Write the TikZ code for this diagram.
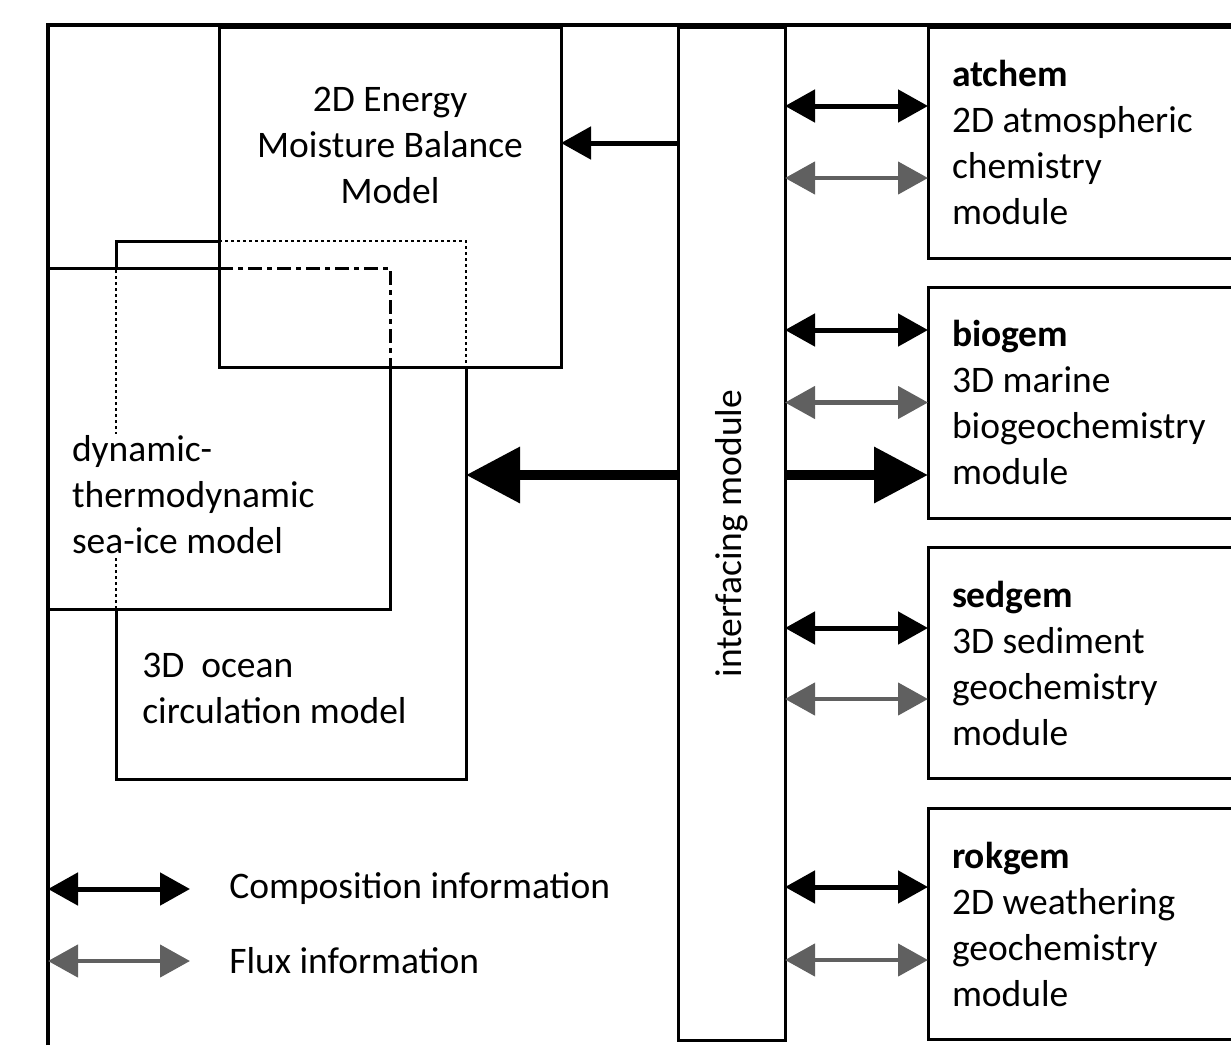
\documentclass[tikz,border=0pt]{standalone}
\usepackage{fontspec}
\setmainfont{Carlito}
\usepackage{graphicx}
\usepackage{tikz}
\usetikzlibrary{arrows.meta, positioning, calc}
\definecolor{fluxgray}{RGB}{96,96,96}

\begin{document}
\begin{tikzpicture}[x=1pt, y=-1pt,
        every node/.style={font=\fontsize{37.5}{46}\selectfont, outer sep=0pt},
        box/.style={draw, line width=3pt, rectangle, inner sep=0pt},
        module/.style={box, anchor=west, minimum height=231pt, text width=292pt, inner xsep=24pt, align=flush left},
        region/.style={rectangle, inner sep=0pt},
        frame/.style={line width=3.5pt},
        solidline/.style={line width=3pt},
        dottedline/.style={line width=2.8pt, dash pattern=on 2.8pt off 3.2pt},
        dashdotline/.style={line width=3pt, dash pattern=on 14pt off 5pt on 5pt off 5pt},
        comp/.style={{Triangle[length=30pt,width=32pt]}-{Triangle[length=30pt,width=32pt]}, line width=5pt},
        flux/.style={comp, draw=fluxgray, fill=fluxgray, line width=4.5pt},
        oneway/.style={-{Triangle[length=30pt,width=32pt]}, line width=5pt},
        bigarrow/.style={-{Triangle[length=54pt,width=54pt]}, line width=10pt}]
        \useasboundingbox (0,0) rectangle (1231,1045);
        \clip (0,0) rectangle (1231,1045);

        % outer frame
        \draw[frame] (48,1045) -- (48,25) -- (1231,25);

        % model components
        \node[box, minimum width=342pt, minimum height=340pt] (embm) at (390,197) {};
        \node[align=center] (embmtext) at (390,145) {2D Energy\\Moisture Balance\\Model};
        \node[region, minimum width=342pt, minimum height=341pt] (seaice) at (219,438.5) {};
        \node[region, minimum width=350pt, minimum height=538pt] (ocean) at (291,510) {};

        % ocean outline
        \draw[solidline] (ocean.west |- seaice.north) -- (ocean.north west) -- (embm.west |- ocean.north);
        \draw[dottedline] (embm.west |- ocean.north) -- (ocean.north east) -- (ocean.east |- embm.south);
        \draw[solidline] (ocean.east |- embm.south) -- (ocean.south east) -- (ocean.south west) -- (ocean.west |- seaice.south);
        \draw[dottedline] (ocean.west |- seaice.south) -- (ocean.west |- seaice.north);

        % sea-ice outline
        \draw[solidline] (seaice.north west) -- (embm.west |- seaice.north);
        \draw[dashdotline] (embm.west |- seaice.north) -- (seaice.north east) -- (seaice.east |- embm.south);
        \draw[solidline] (seaice.east |- embm.south) -- (seaice.south east) -- (seaice.south west);

        \node[fill=white, align=flush left, anchor=west, inner sep=2pt] (seaicetext) at (70,495) {dynamic-\\thermodynamic\\sea-ice model};
        \node[align=flush left, anchor=west] (oceantext) at (139,688) {3D~ ocean\\circulation model};

        % interfacing module
        \node[box, minimum width=107pt, minimum height=1013pt] (iface) at (731.5,533.5) {\rotatebox{90}{interfacing module}};

        % modules
        \node[module] (atchem) at (928,142.5) {\textbf{atchem}\\2D atmospheric\\chemistry\\module};
        \node[module] (biogem) at (928,402.5) {\textbf{biogem}\\3D marine\\biogeochemistry\\module};
        \node[module] (sedgem) at (928,663) {\textbf{sedgem}\\3D sediment\\geochemistry\\module};
        \node[module] (rokgem) at (928,924) {\textbf{rokgem}\\2D weathering\\geochemistry\\module};

        % connections
        \draw[oneway] (iface.west |- 0,143) -- (embm.east |- 0,143);
        \draw[bigarrow, transform canvas={yshift=-72.5pt}] (iface.west |- biogem.west) -- (ocean.east |- biogem.west);
        \draw[bigarrow, transform canvas={yshift=-72.5pt}] (iface.east |- biogem.west) -- (biogem.west);

        \draw[comp, transform canvas={yshift=36.5pt}] (iface.east |- atchem.west) -- (atchem.west);
        \draw[flux, transform canvas={yshift=-35.5pt}] (iface.east |- atchem.west) -- (atchem.west);
        \draw[comp, transform canvas={yshift=72.5pt}] (iface.east |- biogem.west) -- (biogem.west);
        \draw[flux] (iface.east |- biogem.west) -- (biogem.west);
        \draw[comp, transform canvas={yshift=35pt}] (iface.east |- sedgem.west) -- (sedgem.west);
        \draw[flux, transform canvas={yshift=-36pt}] (iface.east |- sedgem.west) -- (sedgem.west);
        \draw[comp, transform canvas={yshift=37pt}] (iface.east |- rokgem.west) -- (rokgem.west);
        \draw[flux, transform canvas={yshift=-36pt}] (iface.east |- rokgem.west) -- (rokgem.west);

        % legend
        \coordinate (compA) at (48,889);
        \coordinate (compB) at (190,889);
        \coordinate (fluxA) at (48,961);
        \coordinate (fluxB) at (190,961);
        \draw[comp] (compA) -- (compB);
        \draw[flux] (fluxA) -- (fluxB);
        \node[anchor=west] (complabel) at (226,889) {Composition information};
        \node[anchor=west] (fluxlabel) at (226,961) {Flux information};
    \end{tikzpicture}
\end{document}
